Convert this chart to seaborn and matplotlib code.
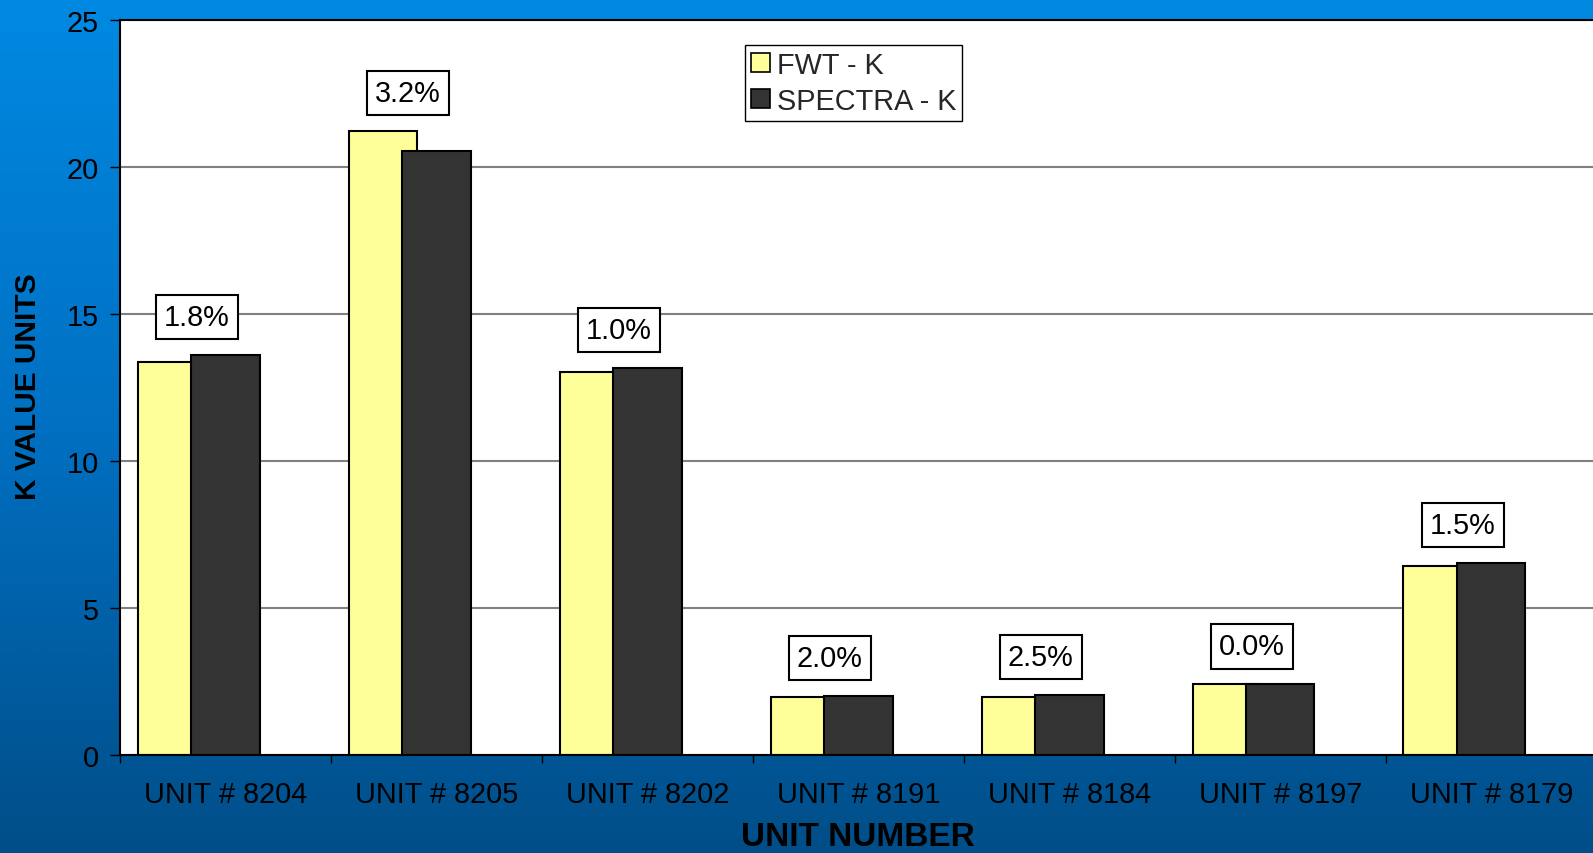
import numpy as np
import pandas as pd
import matplotlib
matplotlib.use("Agg")
import matplotlib.pyplot as plt
from matplotlib.patches import Patch
from matplotlib.colors import LinearSegmentedColormap
import seaborn as sns

# K values measured per unit
units = ["UNIT # 8204", "UNIT # 8205", "UNIT # 8202", "UNIT # 8191",
         "UNIT # 8184", "UNIT # 8197", "UNIT # 8179"]
fwt_k = [13.36, 21.21, 13.02, 1.96, 1.98, 2.40, 6.43]
spectra_k = [13.59, 20.53, 13.15, 2.00, 2.03, 2.40, 6.53]
diff_labels = ["1.8%", "3.2%", "1.0%", "2.0%", "2.5%", "0.0%", "1.5%"]
series_names = ["FWT - K", "SPECTRA - K"]
y_ticks = [0, 5, 10, 15, 20, 25]

colors = ["#FFFF99", "#333333"]

df = pd.DataFrame({
    "unit": units * 2,
    "series": [series_names[0]] * len(units) + [series_names[1]] * len(units),
    "k": fwt_k + spectra_k,
})

sns.set_theme(style="white")
plt.rcParams["font.family"] = ["Liberation Sans", "DejaVu Sans"]

FS = 20.8

W, H = 1593, 854
fig = plt.figure(figsize=(W / 100, H / 100), dpi=100)

# blue gradient backdrop
bg = fig.add_axes([0, 0, 1, 1], zorder=0)
cmap = LinearSegmentedColormap.from_list("bluegrad", ["#0089E2", "#0070C2", "#004E88"])
grad = np.linspace(0, 1, 512).reshape(-1, 1)
bg.imshow(grad, cmap=cmap, aspect="auto", extent=[0, 1, 0, 1], origin="upper")
bg.set_axis_off()

ax = fig.add_axes([120 / W, (H - 756) / H, 1476.7 / W, 735.3 / H], zorder=1)
ax.set_facecolor("white")

sns.barplot(data=df, x="unit", y="k", hue="series", palette=colors,
            saturation=1, edgecolor="black", linewidth=1.5,
            ax=ax, legend=False)

# place the two series side by side with a slight overlap
offsets = [-0.416, -0.1635]
for cont, off, z in zip(ax.containers, offsets, [2, 3]):
    for i, p in enumerate(cont.patches):
        p.set_x(i + off)
        p.set_width(0.3257)
        p.set_zorder(z)

ax.set_xlim(-0.5, len(units) - 0.5)
ax.set_ylim(0, 25)
ax.set_yticks(y_ticks)
ax.set_xlabel("")
ax.set_ylabel("")

ax.yaxis.grid(True, color="#808080", linewidth=1.5)
ax.xaxis.grid(False)
ax.set_axisbelow(True)

for side in ["left", "bottom", "top"]:
    ax.spines[side].set_visible(True)
    ax.spines[side].set_color("black")
    ax.spines[side].set_linewidth(1.5)
ax.spines["right"].set_visible(False)

ax.tick_params(axis="y", left=True, direction="out", length=7.2, width=1,
               color="black", pad=8, labelsize=FS, labelcolor="black")
ax.tick_params(axis="x", which="major", bottom=True, length=0, pad=18,
               labelsize=FS, labelcolor="black")
ax.set_xticks(np.arange(-0.5, len(units)), minor=True)
ax.tick_params(axis="x", which="minor", bottom=True, direction="out",
               length=5.8, width=1, color="black")

# percentage difference labels above each pair
for i, (a, b, lab) in enumerate(zip(fwt_k, spectra_k, diff_labels)):
    ax.annotate(lab, xy=(i - 0.135, max(a, b)), xytext=(0, 38),
                textcoords="offset pixels", ha="center", va="center",
                fontsize=FS, color="black", zorder=5,
                bbox=dict(boxstyle="square,pad=0.28", fc="white", ec="black", lw=1.5))

handles = [Patch(facecolor=c, edgecolor="black", linewidth=1.2) for c in colors]
leg = ax.legend(handles, series_names, loc="upper left",
                bbox_to_anchor=(745 / W, 1 - 46 / H), bbox_transform=fig.transFigure,
                frameon=True, fancybox=False, framealpha=1, edgecolor="black",
                fontsize=FS, handlelength=0.65, handleheight=0.65,
                handletextpad=0.25, borderpad=0.2, labelspacing=0.28,
                borderaxespad=0)
leg.get_frame().set_linewidth(1)

fig.text(28.5 / W, 1 - 387 / H, "K VALUE UNITS", rotation=90, ha="center",
         va="center", fontsize=21.5, fontweight="bold", color="black")
fig.text(858 / W, (H - 846) / H, "UNIT NUMBER", ha="center", va="baseline",
         fontsize=24, fontweight="bold", color="black")

fig.savefig("out.png", dpi=100)
